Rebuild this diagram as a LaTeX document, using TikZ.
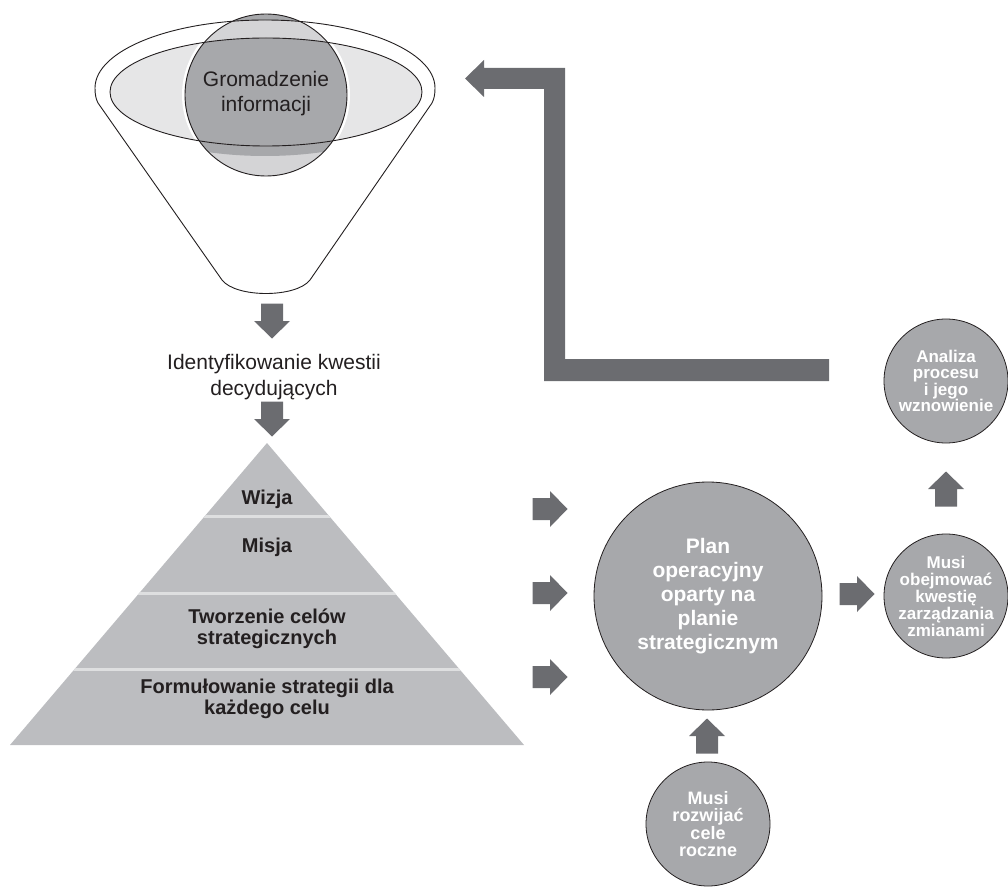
\documentclass[tikz,border=0pt]{standalone}
\usepackage{fontspec}
\setmainfont{Liberation Sans}
\lineskiplimit=-50pt
\definecolor{arrowgray}{HTML}{6B6C70}
\definecolor{circgray}{HTML}{A7A8AB}
\definecolor{pyrgray}{HTML}{BCBDC0}
\definecolor{divgray}{HTML}{DEDFE0}
\definecolor{txtdark}{HTML}{231F20}
\definecolor{lightell}{HTML}{E6E6E7}
\definecolor{midlight}{HTML}{D4D4D6}
\newcommand\funnelpath{(95,88) arc[start angle=180,end angle=0,x radius=170pt,y radius=68pt] .. controls (435,95) and (434,99) .. (432,103) -- (310,280) .. controls (296,298) and (236,298) .. (222,280) -- (98,103) .. controls (96,99) and (95,95) .. (95,88) -- cycle}
\tikzset{
  blockarrow/.pic={\fill[arrowgray] (-17.5,-11) -- (0,-11) -- (0,-18) -- (17.5,0) -- (0,18) -- (0,11) -- (-17.5,11) -- cycle;},
  pyrtext/.style={font=\bfseries\fontsize{20}{21}\selectfont, text=txtdark, align=center, inner sep=0pt},
  bigcirc/.style={circle, draw=txtdark, line width=0.8pt, fill=circgray, inner sep=0pt, minimum size=#1},
  ctext/.style 2 args={text=white, align=center, inner sep=0pt, font=\bfseries\fontsize{#1}{#2}\selectfont}
}
\begin{document}
\begin{tikzpicture}[x=1pt,y=-1pt]
\useasboundingbox (0,0) rectangle (1008,890);
% funnel
\fill[white] \funnelpath;
\fill[lightell] (266,92) ellipse[x radius=156pt, y radius=54pt];
\draw[white, line width=6pt] (266,95) circle[radius=81pt];
\fill[midlight] (266,95) circle[radius=81pt];
\begin{scope}
  \clip (266,95) circle[radius=81pt];
  \fill[circgray] (266,92) ellipse[x radius=156pt, y radius=54pt];
  \fill[circgray, even odd rule] (150,0) rectangle (400,88) (265,88) ellipse[x radius=170pt, y radius=68pt];
\end{scope}
\draw[txtdark, line width=0.9pt] \funnelpath;
\draw[txtdark, line width=0.9pt] (266,92) ellipse[x radius=156pt, y radius=54pt];
\draw[txtdark, line width=0.9pt] (266,95) circle[radius=81pt];
\node[font=\fontsize{21}{25}\selectfont, text=txtdark, align=center, inner sep=0pt] (gi) at (266,94) {Gromadzenie\\informacji};

% first arrows and text
\pic[rotate=-90] at (272,321) {blockarrow};
\node[font=\fontsize{21}{26}\selectfont, text=txtdark, align=center, inner sep=0pt] (ik) at (274,377) {Identyfikowanie kwestii\\decydujących};
\pic[rotate=-90] at (272,419) {blockarrow};

% pyramid
\fill[pyrgray] (267,443) -- (524,745) -- (10,745) -- cycle;
\begin{scope}
  \clip (267,443) -- (524,745) -- (10,745) -- cycle;
  \draw[divgray, line width=3pt] (0,516) -- (540,516);
  \draw[divgray, line width=3pt] (0,593) -- (540,593);
  \draw[divgray, line width=3pt] (0,669) -- (540,669);
\end{scope}
\node[pyrtext] (wiz) at (267,499) {Wizja};
\node[pyrtext] (mis) at (267,547) {Misja};
\node[pyrtext] (tcs) at (267,629) {Tworzenie celów\\strategicznych};
\node[pyrtext] (fsk) at (267,699) {Formułowanie strategii dla\\każdego celu};

% arrows into plan
\pic at (550,509) {blockarrow};
\pic at (550,593) {blockarrow};
\pic at (550,677) {blockarrow};

% circles
\node[bigcirc=228pt] (plan) at (708,596) {};
\node[ctext={21}{24}] at (plan) {Plan\\operacyjny\\oparty na\\planie\\strategicznym};
\node[bigcirc=124pt] (zm) at (946,596) {};
\node[ctext={17}{17}] at (zm) {Musi\\obejmować\\kwestię\\zarządzania\\zmianami};
\node[bigcirc=124pt] (an) at (946,381) {};
\node[ctext={17}{16.5}] at (an) {Analiza\\procesu\\i jego\\wznowienie};
\node[bigcirc=124pt] (cr) at (708,824) {};
\node[ctext={18}{17.5}] at (cr) {Musi\\rozwijać\\cele\\roczne};

\pic at (857,594) {blockarrow};
\pic[rotate=90] at (946,489) {blockarrow};
\pic[rotate=90] at (707,736) {blockarrow};

% feedback arrow
\fill[arrowgray] (829,359) -- (565,359) -- (565,68) -- (484,68) -- (484,60) -- (465,78.5) -- (484,97) -- (484,89) -- (544,89) -- (544,381) -- (829,381) -- cycle;
\end{tikzpicture}
\end{document}
